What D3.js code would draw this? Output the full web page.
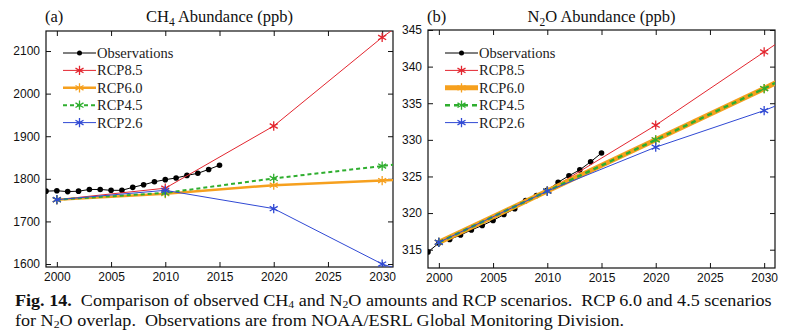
<!DOCTYPE html>
<meta charset="utf-8">
<script src="https://d3js.org/d3.v7.min.js"></script>
<style>
  body { margin: 0; background: #fff; }
  svg { font-family: "Liberation Serif", "Times New Roman", serif; }
  .tick text { font-size: 12px; fill: #111; }
</style>
<div id="chart"></div>
<script>
// years of the RCP scenario points, observation years
var rcpYears = [2000, 2010, 2020, 2030, 2040];
var obsYears = [1999, 2000, 2001, 2002, 2003, 2004, 2005, 2006, 2007, 2008, 2009, 2010, 2011, 2012, 2013, 2014, 2015];
var xTicks = [2000, 2005, 2010, 2015, 2020, 2025, 2030];

// CH4 (ppb)
var ch4Obs = [1771, 1772, 1770, 1771, 1775, 1775, 1773, 1773, 1780, 1786, 1793, 1798, 1802, 1808, 1813, 1822, 1832];
var ch4Rcp85 = [1751, 1778, 1924, 2132, 2315];
var ch4Rcp60 = [1751, 1765, 1785, 1796, 1808];
var ch4Rcp45 = [1751, 1767, 1801, 1830, 1860];
var ch4Rcp26 = [1751, 1773, 1730, 1600, 1520];
var ch4Ticks = [1600, 1700, 1800, 1900, 2000, 2100];

// N2O (ppb)
var n2oObs = [314.7, 315.9, 316.4, 317.0, 317.7, 318.3, 319.0, 319.8, 320.6, 321.7, 322.4, 323.1, 324.2, 325.1, 325.9, 327.0, 328.2];
var n2oRcp85 = [316, 323, 332, 342, 352];
var n2oRcp60 = [316, 323, 330, 337, 344.5];
var n2oRcp45 = [316, 323, 330, 337, 344.5];
var n2oRcp26 = [316, 323, 329, 334, 340];
var n2oTicks = [315, 320, 325, 330, 335, 340, 345];

var seriesNames = ["Observations", "RCP8.5", "RCP6.0", "RCP4.5", "RCP2.6"];

var width = 792, height = 332;
var svg = d3.select("#chart").append("svg")
    .attr("width", width)
    .attr("height", height);

function drawPanel(p) {
    var x = d3.scaleLinear().domain([1999, 2031]).range([p.left, p.right]);
    var y = d3.scaleLinear().domain(p.yDomain).range([p.bottom, p.top]);
    var g = svg.append("g");

    g.append("clipPath").attr("id", "clip" + p.id)
        .append("rect")
        .attr("x", p.left).attr("y", p.top)
        .attr("width", p.right - p.left).attr("height", p.bottom - p.top);

    // axes, ticks inward on all four sides
    g.append("g")
        .attr("transform", "translate(0," + p.bottom + ")")
        .call(d3.axisBottom(x).tickValues(xTicks).tickFormat(d3.format("d")).tickSizeInner(-5).tickSizeOuter(0).tickPadding(5));
    g.append("g")
        .attr("transform", "translate(0," + p.top + ")")
        .call(d3.axisTop(x).tickValues(xTicks).tickFormat("").tickSizeInner(-5).tickSizeOuter(0));
    g.append("g")
        .attr("transform", "translate(" + p.left + ",0)")
        .call(d3.axisLeft(y).tickValues(p.yTicks).tickFormat(d3.format("d")).tickSizeInner(-5).tickSizeOuter(0).tickPadding(6));
    g.append("g")
        .attr("transform", "translate(" + p.right + ",0)")
        .call(d3.axisRight(y).tickValues(p.yTicks).tickFormat("").tickSizeInner(-5).tickSizeOuter(0));
    g.selectAll(".domain").remove();
    g.selectAll(".tick line").attr("stroke", "#111");

    g.append("rect")
        .attr("x", p.left).attr("y", p.top)
        .attr("width", p.right - p.left).attr("height", p.bottom - p.top)
        .attr("fill", "none").attr("stroke", "#111").attr("stroke-width", 1.2);

    // titles
    g.append("text").attr("x", p.left - 1).attr("y", 22)
        .attr("font-size", "16.5px").attr("fill", "#111").text(p.tag);
    var t = g.append("text").attr("x", (p.left + p.right) / 2).attr("y", 22)
        .attr("text-anchor", "middle").attr("font-size", "16.5px").attr("fill", "#111");
    t.append("tspan").text(p.mol[0]);
    t.append("tspan").attr("dy", 4).attr("font-size", "11.5px").text(p.mol[1]);
    t.append("tspan").attr("dy", -4).text(p.mol[2] + " Abundance (ppb)");

    var plot = g.append("g").attr("clip-path", "url(#clip" + p.id + ")");
    var line = d3.line().x(function (d) { return x(d[0]); }).y(function (d) { return y(d[1]); });
    var star = d3.symbol().type(d3.symbolAsterisk).size(60);

    // observations
    var obs = obsYears.map(function (yr, i) { return [yr, p.obs[i]]; });
    plot.append("path").datum(obs).attr("d", line)
        .attr("fill", "none").attr("stroke", "#000").attr("stroke-width", 1);
    plot.selectAll(".obs").data(obs).enter().append("circle")
        .attr("cx", function (d) { return x(d[0]); })
        .attr("cy", function (d) { return y(d[1]); })
        .attr("r", 2.8).attr("fill", "#000");

    // scenarios
    p.rcp.forEach(function (s) {
        var pts = rcpYears.map(function (yr, i) { return [yr, s.values[i]]; });
        plot.append("path").datum(pts).attr("d", line)
            .attr("fill", "none").attr("stroke", s.color)
            .attr("stroke-width", s.width)
            .attr("stroke-dasharray", s.dash || null);
        plot.selectAll(null).data(pts.slice(0, 4)).enter().append("path")
            .attr("transform", function (d) { return "translate(" + x(d[0]) + "," + y(d[1]) + ")"; })
            .attr("d", star).attr("fill", "none")
            .attr("stroke", s.color).attr("stroke-width", 1.3);
    });

    // legend
    var lx0 = p.left + 17, lx1 = p.left + 50, ly = 53, step = 17.4;
    var leg = g.append("g");
    leg.append("line").attr("x1", lx0).attr("x2", lx1).attr("y1", ly).attr("y2", ly)
        .attr("stroke", "#000").attr("stroke-width", 1);
    leg.append("circle").attr("cx", (lx0 + lx1) / 2).attr("cy", ly).attr("r", 2.5).attr("fill", "#000");
    p.rcp.forEach(function (s, i) {
        var yy = ly + step * (i + 1);
        leg.append("line").attr("x1", lx0).attr("x2", lx1).attr("y1", yy).attr("y2", yy)
            .attr("stroke", s.color).attr("stroke-width", s.width)
            .attr("stroke-dasharray", s.dash || null);
        leg.append("path").attr("transform", "translate(" + (lx0 + lx1) / 2 + "," + yy + ")")
            .attr("d", star).attr("fill", "none").attr("stroke", s.color).attr("stroke-width", 1.3);
    });
    seriesNames.forEach(function (name, i) {
        leg.append("text").attr("x", lx1 + 1).attr("y", ly + step * i + 5)
            .attr("font-size", "14.5px").attr("fill", "#222").text(name);
    });
}

var red = "#e3262f", orange = "#f6a01e", green = "#2fae2f", blue = "#3049d4";

drawPanel({
    id: "a", tag: "(a)", mol: ["CH", "4", ""],
    left: 46, right: 393, top: 31, bottom: 267,
    yDomain: [1593, 2147], yTicks: ch4Ticks, obs: ch4Obs,
    rcp: [
        { values: ch4Rcp85, color: red, width: 1 },
        { values: ch4Rcp60, color: orange, width: 2.5 },
        { values: ch4Rcp45, color: green, width: 2, dash: "4,3" },
        { values: ch4Rcp26, color: blue, width: 1 }
    ]
});

drawPanel({
    id: "b", tag: "(b)", mol: ["N", "2", "O"],
    left: 428, right: 775, top: 30, bottom: 268,
    yDomain: [312.5, 345], yTicks: n2oTicks, obs: n2oObs,
    rcp: [
        { values: n2oRcp85, color: red, width: 1 },
        { values: n2oRcp60, color: orange, width: 5 },
        { values: n2oRcp45, color: green, width: 2.5, dash: "5,4" },
        { values: n2oRcp26, color: blue, width: 1 }
    ]
});

// caption, slightly stretched like the scanned original
var cap = svg.append("g").attr("font-size", "17px").attr("fill", "#111")
    .attr("transform", "translate(15,0) scale(1.065,1)");
var l1 = cap.append("text").attr("x", 0).attr("y", 306);
l1.append("tspan").attr("font-weight", "bold").text("Fig. 14.");
l1.append("tspan").text("  Comparison of observed CH");
l1.append("tspan").attr("dy", 2.5).attr("font-size", "11px").text("4");
l1.append("tspan").attr("dy", -2.5).text(" and N");
l1.append("tspan").attr("dy", 2.5).attr("font-size", "11px").text("2");
l1.append("tspan").attr("dy", -2.5).text("O amounts and RCP scenarios.  RCP 6.0 and 4.5 scenarios");
var l2 = cap.append("text").attr("x", 0).attr("y", 326);
l2.append("tspan").text("for N");
l2.append("tspan").attr("dy", 2.5).attr("font-size", "11px").text("2");
l2.append("tspan").attr("dy", -2.5).text("O overlap.  Observations are from NOAA/ESRL Global Monitoring Division.");
cap.selectAll("text").attr("xml:space", "preserve").style("white-space", "pre");
</script>
